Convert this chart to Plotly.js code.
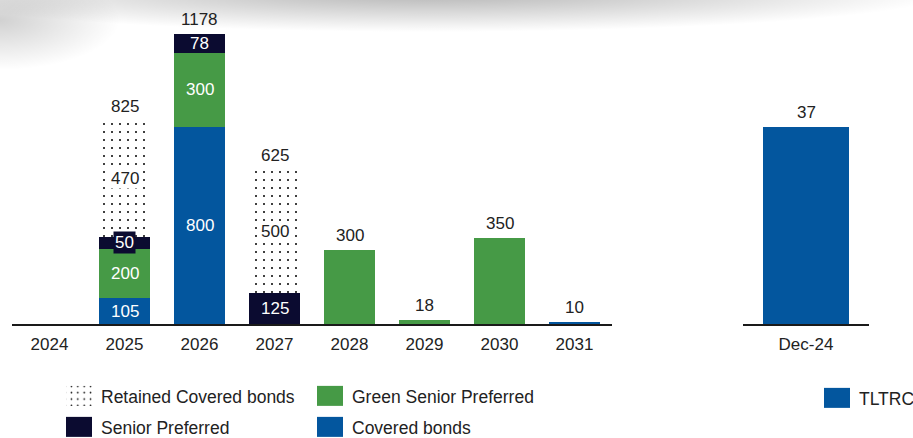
<!DOCTYPE html>
<html>
<head>
<meta charset="utf-8">
<script src="https://cdn.plot.ly/plotly-3.0.1.min.js"></script>
<style>
  html, body { margin: 0; padding: 0; background: #ffffff; }
  #wrap { position: relative; width: 913px; height: 438px; overflow: hidden; }
  #shade { position: absolute; left: 0; top: 0; width: 913px; height: 80px;
    background:
      radial-gradient(ellipse 520px 40px at 430px -8px, rgba(0,0,0,0.30), rgba(0,0,0,0) 100%),
      radial-gradient(ellipse 120px 50px at 0px 20px, rgba(0,0,0,0.18), rgba(0,0,0,0) 100%);
  }
  #chart { position: absolute; left: 0; top: 0; width: 913px; height: 438px; }
</style>
</head>
<body>
<div id="wrap"><div id="shade"></div><div id="chart"></div></div>
<script>
// ---- data ----
const years = ['2024', '2025', '2026', '2027', '2028', '2029', '2030', '2031'];
const coveredBonds = [null, 105, 800, null, null, null, null, 10];
const greenSeniorPreferred = [null, 200, 300, null, 300, 18, 350, null];
const seniorPreferred = [null, 50, 78, 125, null, null, null, null];
const retainedCoveredBonds = [null, 470, null, 500, null, null, null, null];
const rightCategories = ['Dec-24'];
const tltrc = [37];

// ---- style ----
const BLUE = '#03569e', GREEN = '#469a46', NAVY = '#0b0b30', TXT = '#222222';
const FONT = 'Liberation Sans, Arial, sans-serif';
const FS = 17;

const series = [
  {name: 'Covered bonds', vals: coveredBonds, color: BLUE, legend: 'legend4'},
  {name: 'Green Senior Preferred', vals: greenSeniorPreferred, color: GREEN, legend: 'legend2'},
  {name: 'Senior Preferred', vals: seniorPreferred, color: NAVY, legend: 'legend3'},
  {name: 'Retained Covered bonds', vals: retainedCoveredBonds, color: '#ffffff', legend: 'legend', pattern: true}
];

const traces = series.map(s => ({
  type: 'bar', x: years, y: s.vals, name: s.name, xaxis: 'x', yaxis: 'y',
  legend: s.legend, width: 0.667, hoverinfo: 'skip',
  marker: s.pattern
    ? {color: '#ffffff', line: {width: 0},
       pattern: {shape: '.', fgcolor: '#000000', bgcolor: '#ffffff', size: 8, solidity: 0.05}}
    : {color: s.color, line: {width: 0}}
}));
traces.push({
  type: 'bar', x: rightCategories, y: tltrc, name: 'TLTRC', xaxis: 'x2', yaxis: 'y2',
  legend: 'legend5', width: 0.675, hoverinfo: 'skip', marker: {color: BLUE, line: {width: 0}}
});

// ---- annotations from data ----
const annotations = [];
years.forEach((yr, i) => {
  const segs = series.map(s => s.vals[i]).filter(v => v != null && v > 0);
  const total = segs.reduce((a, b) => a + b, 0);
  if (total > 0) {
    annotations.push({x: i, y: total, xref: 'x', yref: 'y', text: String(total),
      showarrow: false, yanchor: 'bottom', yshift: 3, font: {family: FONT, size: FS, color: TXT}});
  }
  if (segs.length > 1) {
    let base = 0;
    series.forEach(s => {
      const v = s.vals[i];
      if (v == null || v <= 0) return;
      const small = v * 308 / 1250 < 16;
      annotations.push({x: i, y: base + v / 2, xref: 'x', yref: 'y', text: String(v),
        showarrow: false, yanchor: 'middle',
        font: {family: FONT, size: FS, color: s.pattern ? TXT : '#ffffff'},
        bgcolor: s.pattern ? '#ffffff' : (small ? s.color : 'rgba(0,0,0,0)'),
        borderpad: s.pattern ? 0 : 1});
      base += v;
    });
  }
});
rightCategories.forEach((c, i) => {
  annotations.push({x: i, y: tltrc[i], xref: 'x2', yref: 'y2', text: String(tltrc[i]),
    showarrow: false, yanchor: 'bottom', yshift: 3, font: {family: FONT, size: FS, color: TXT}});
});

const legendBase = {xref: 'container', yref: 'container', xanchor: 'left', yanchor: 'middle',
  bgcolor: 'rgba(0,0,0,0)', font: {family: FONT, size: 17.5, color: TXT}, orientation: 'v'};

const axisX = {type: 'category', showgrid: false, zeroline: false, showline: true,
  linecolor: '#1a1a1a', linewidth: 2, ticks: '', ticklen: 0, tickangle: 0, automargin: false,
  ticklabelstandoff: 4,
  tickfont: {family: FONT, size: FS, color: TXT}, fixedrange: true};
const axisY = {showgrid: false, zeroline: false, showline: false, showticklabels: false, ticks: '', fixedrange: true, automargin: false};

const ROW1 = 396, ROW2 = 427;
const layout = {
  width: 913, height: 438,
  margin: {l: 12, r: 44, t: 16, b: 114, autoexpand: false},
  paper_bgcolor: 'rgba(0,0,0,0)', plot_bgcolor: 'rgba(0,0,0,0)',
  barmode: 'stack', bargap: 0.333,
  font: {family: FONT, size: FS, color: TXT},
  xaxis: Object.assign({}, axisX, {domain: [0, 600 / 857], range: [-0.5, 7.5], anchor: 'y'}),
  yaxis: Object.assign({}, axisY, {range: [0, 1250], anchor: 'x'}),
  xaxis2: Object.assign({}, axisX, {domain: [731 / 857, 1], range: [-0.5, 0.5], anchor: 'y2'}),
  yaxis2: Object.assign({}, axisY, {range: [0, 37 * 308 / 197], anchor: 'x2'}),
  annotations: annotations,
  showlegend: true,
  legend: Object.assign({}, legendBase, {x: 61 / 913, y: 1 - ROW1 / 438}),
  legend2: Object.assign({}, legendBase, {x: 312 / 913, y: 1 - ROW1 / 438}),
  legend3: Object.assign({}, legendBase, {x: 61 / 913, y: 1 - ROW2 / 438}),
  legend4: Object.assign({}, legendBase, {x: 312 / 913, y: 1 - ROW2 / 438}),
  legend5: Object.assign({}, legendBase, {x: 819 / 913, y: 1 - 398 / 438})
};

Plotly.newPlot('chart', traces, layout, {displayModeBar: false, staticPlot: true}).then(gd => {
  // enlarge legend swatches to match the reference's rectangular keys
  gd.querySelectorAll('.legendpoints path').forEach(p => {
    p.setAttribute('d', 'M11,10H-15V-10H11Z');
  });
});
</script>
</body>
</html>
